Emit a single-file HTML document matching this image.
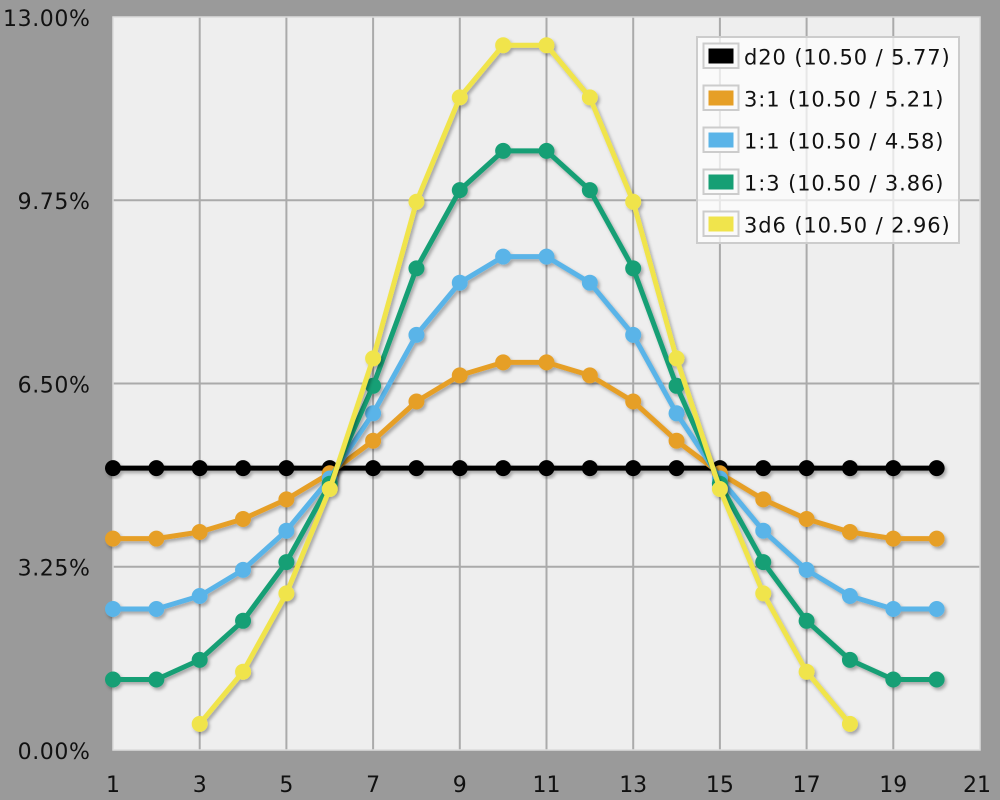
<!DOCTYPE html>
<html><head><meta charset="utf-8"><style>
html,body{margin:0;padding:0;background:#9a9a9a;}
svg{display:block;}
text{font-family:"DejaVu Sans","Liberation Sans",sans-serif;fill:#111;}
</style></head><body>
<svg width="1000" height="800" viewBox="0 0 1000 800" xmlns="http://www.w3.org/2000/svg">
<defs>
<filter id="sh" x="-20%" y="-20%" width="140%" height="140%">
<feDropShadow dx="2" dy="2.5" stdDeviation="1.6" flood-color="#000" flood-opacity="0.3"/>
</filter>
</defs>
<rect x="0" y="0" width="1000" height="800" fill="#9a9a9a"/>
<rect x="113" y="17" width="867" height="733" fill="#eeeeee"/>
<g stroke="#aaaaaa" stroke-width="2">
<line x1="113" y1="200.2" x2="980" y2="200.2"/>
<line x1="113" y1="383.5" x2="980" y2="383.5"/>
<line x1="113" y1="566.7" x2="980" y2="566.7"/>
<line x1="199.7" y1="17" x2="199.7" y2="750"/>
<line x1="286.4" y1="17" x2="286.4" y2="750"/>
<line x1="373.1" y1="17" x2="373.1" y2="750"/>
<line x1="459.8" y1="17" x2="459.8" y2="750"/>
<line x1="546.5" y1="17" x2="546.5" y2="750"/>
<line x1="633.2" y1="17" x2="633.2" y2="750"/>
<line x1="719.9" y1="17" x2="719.9" y2="750"/>
<line x1="806.6" y1="17" x2="806.6" y2="750"/>
<line x1="893.3" y1="17" x2="893.3" y2="750"/>
</g>
<rect x="113" y="17" width="867" height="733" fill="none" stroke="#dcdcdc" stroke-width="1.5"/>

<g font-size="22" text-anchor="end" letter-spacing="0.6">
<text x="90.5" y="26">13.00%</text>
<text x="90.5" y="209">9.75%</text>
<text x="90.5" y="392.5">6.50%</text>
<text x="90.5" y="575.5">3.25%</text>
<text x="90.5" y="759">0.00%</text>
</g>
<g font-size="22" text-anchor="middle">
<text x="113" y="792">1</text>
<text x="199.7" y="792">3</text>
<text x="286.4" y="792">5</text>
<text x="373.1" y="792">7</text>
<text x="459.8" y="792">9</text>
<text x="546.5" y="792">11</text>
<text x="633.2" y="792">13</text>
<text x="719.9" y="792">15</text>
<text x="806.6" y="792">17</text>
<text x="893.3" y="792">19</text>
<text x="977" y="792">21</text>
</g>

<!-- d20 -->
<g filter="url(#sh)" fill="#000">
<polyline fill="none" stroke="#000" stroke-width="5" stroke-linejoin="round" points="113,468.1 936.65,468.1"/>
<circle cx="113" cy="468.1" r="8"/><circle cx="156.35" cy="468.1" r="8"/><circle cx="199.7" cy="468.1" r="8"/><circle cx="243.05" cy="468.1" r="8"/><circle cx="286.4" cy="468.1" r="8"/><circle cx="329.75" cy="468.1" r="8"/><circle cx="373.1" cy="468.1" r="8"/><circle cx="416.45" cy="468.1" r="8"/><circle cx="459.8" cy="468.1" r="8"/><circle cx="503.15" cy="468.1" r="8"/><circle cx="546.5" cy="468.1" r="8"/><circle cx="589.85" cy="468.1" r="8"/><circle cx="633.2" cy="468.1" r="8"/><circle cx="676.55" cy="468.1" r="8"/><circle cx="719.9" cy="468.1" r="8"/><circle cx="763.25" cy="468.1" r="8"/><circle cx="806.6" cy="468.1" r="8"/><circle cx="849.95" cy="468.1" r="8"/><circle cx="893.3" cy="468.1" r="8"/><circle cx="936.65" cy="468.1" r="8"/>
</g>
<!-- 3:1 -->
<g filter="url(#sh)" fill="#e69f26">
<polyline fill="none" stroke="#e69f26" stroke-width="5" stroke-linejoin="round" points="113,538.6 156.35,538.6 199.7,532.0 243.05,519.0 286.4,499.4 329.75,473.3 373.1,440.7 416.45,401.5 459.8,375.4 503.15,362.4 546.5,362.4 589.85,375.4 633.2,401.5 676.55,440.7 719.9,473.3 763.25,499.4 806.6,519.0 849.95,532.0 893.3,538.6 936.65,538.6"/>
<circle cx="113" cy="538.6" r="8"/><circle cx="156.35" cy="538.6" r="8"/><circle cx="199.7" cy="532.0" r="8"/><circle cx="243.05" cy="519.0" r="8"/><circle cx="286.4" cy="499.4" r="8"/><circle cx="329.75" cy="473.3" r="8"/><circle cx="373.1" cy="440.7" r="8"/><circle cx="416.45" cy="401.5" r="8"/><circle cx="459.8" cy="375.4" r="8"/><circle cx="503.15" cy="362.4" r="8"/><circle cx="546.5" cy="362.4" r="8"/><circle cx="589.85" cy="375.4" r="8"/><circle cx="633.2" cy="401.5" r="8"/><circle cx="676.55" cy="440.7" r="8"/><circle cx="719.9" cy="473.3" r="8"/><circle cx="763.25" cy="499.4" r="8"/><circle cx="806.6" cy="519.0" r="8"/><circle cx="849.95" cy="532.0" r="8"/><circle cx="893.3" cy="538.6" r="8"/><circle cx="936.65" cy="538.6" r="8"/>
</g>
<!-- 1:1 -->
<g filter="url(#sh)" fill="#5ab4e8">
<polyline fill="none" stroke="#5ab4e8" stroke-width="5" stroke-linejoin="round" points="113,609.0 156.35,609.0 199.7,596.0 243.05,569.9 286.4,530.7 329.75,478.5 373.1,413.3 416.45,334.9 459.8,282.7 503.15,256.6 546.5,256.6 589.85,282.7 633.2,334.9 676.55,413.3 719.9,478.5 763.25,530.7 806.6,569.9 849.95,596.0 893.3,609.0 936.65,609.0"/>
<circle cx="113" cy="609.0" r="8"/><circle cx="156.35" cy="609.0" r="8"/><circle cx="199.7" cy="596.0" r="8"/><circle cx="243.05" cy="569.9" r="8"/><circle cx="286.4" cy="530.7" r="8"/><circle cx="329.75" cy="478.5" r="8"/><circle cx="373.1" cy="413.3" r="8"/><circle cx="416.45" cy="334.9" r="8"/><circle cx="459.8" cy="282.7" r="8"/><circle cx="503.15" cy="256.6" r="8"/><circle cx="546.5" cy="256.6" r="8"/><circle cx="589.85" cy="282.7" r="8"/><circle cx="633.2" cy="334.9" r="8"/><circle cx="676.55" cy="413.3" r="8"/><circle cx="719.9" cy="478.5" r="8"/><circle cx="763.25" cy="530.7" r="8"/><circle cx="806.6" cy="569.9" r="8"/><circle cx="849.95" cy="596.0" r="8"/><circle cx="893.3" cy="609.0" r="8"/><circle cx="936.65" cy="609.0" r="8"/>
</g>
<!-- 1:3 -->
<g filter="url(#sh)" fill="#169f74">
<polyline fill="none" stroke="#169f74" stroke-width="5" stroke-linejoin="round" points="113,679.5 156.35,679.5 199.7,659.9 243.05,620.8 286.4,562.1 329.75,483.7 373.1,385.8 416.45,268.4 459.8,190.1 503.15,150.9 546.5,150.9 589.85,190.1 633.2,268.4 676.55,385.8 719.9,483.7 763.25,562.1 806.6,620.8 849.95,659.9 893.3,679.5 936.65,679.5"/>
<circle cx="113" cy="679.5" r="8"/><circle cx="156.35" cy="679.5" r="8"/><circle cx="199.7" cy="659.9" r="8"/><circle cx="243.05" cy="620.8" r="8"/><circle cx="286.4" cy="562.1" r="8"/><circle cx="329.75" cy="483.7" r="8"/><circle cx="373.1" cy="385.8" r="8"/><circle cx="416.45" cy="268.4" r="8"/><circle cx="459.8" cy="190.1" r="8"/><circle cx="503.15" cy="150.9" r="8"/><circle cx="546.5" cy="150.9" r="8"/><circle cx="589.85" cy="190.1" r="8"/><circle cx="633.2" cy="268.4" r="8"/><circle cx="676.55" cy="385.8" r="8"/><circle cx="719.9" cy="483.7" r="8"/><circle cx="763.25" cy="562.1" r="8"/><circle cx="806.6" cy="620.8" r="8"/><circle cx="849.95" cy="659.9" r="8"/><circle cx="893.3" cy="679.5" r="8"/><circle cx="936.65" cy="679.5" r="8"/>
</g>
<!-- 3d6 -->
<g filter="url(#sh)" fill="#f0e44c">
<polyline fill="none" stroke="#f0e44c" stroke-width="5" stroke-linejoin="round" points="199.7,723.9 243.05,671.7 286.4,593.4 329.75,489.0 373.1,358.4 416.45,201.8 459.8,97.4 503.15,45.2 546.5,45.2 589.85,97.4 633.2,201.8 676.55,358.4 719.9,489.0 763.25,593.4 806.6,671.7 849.95,723.9"/>
<circle cx="199.7" cy="723.9" r="8"/><circle cx="243.05" cy="671.7" r="8"/><circle cx="286.4" cy="593.4" r="8"/><circle cx="329.75" cy="489.0" r="8"/><circle cx="373.1" cy="358.4" r="8"/><circle cx="416.45" cy="201.8" r="8"/><circle cx="459.8" cy="97.4" r="8"/><circle cx="503.15" cy="45.2" r="8"/><circle cx="546.5" cy="45.2" r="8"/><circle cx="589.85" cy="97.4" r="8"/><circle cx="633.2" cy="201.8" r="8"/><circle cx="676.55" cy="358.4" r="8"/><circle cx="719.9" cy="489.0" r="8"/><circle cx="763.25" cy="593.4" r="8"/><circle cx="806.6" cy="671.7" r="8"/><circle cx="849.95" cy="723.9" r="8"/>
</g>

<!-- legend -->
<rect x="697" y="37" width="262" height="206" fill="#ffffff" fill-opacity="0.72" stroke="#cccccc" stroke-width="2"/>
<g stroke="#cccccc" stroke-width="2" fill="#fafafa">
<rect x="703.5" y="43.5" width="35" height="24.5"/>
<rect x="703.5" y="85.5" width="35" height="24.5"/>
<rect x="703.5" y="127.5" width="35" height="24.5"/>
<rect x="703.5" y="169.5" width="35" height="24.5"/>
<rect x="703.5" y="211.5" width="35" height="24.5"/>
</g>
<rect x="708.5" y="48.5" width="25" height="15" fill="#000"/>
<rect x="708.5" y="90.5" width="25" height="15" fill="#e69f26"/>
<rect x="708.5" y="132.5" width="25" height="15" fill="#5ab4e8"/>
<rect x="708.5" y="174.5" width="25" height="15" fill="#169f74"/>
<rect x="708.5" y="216.5" width="25" height="15" fill="#f0e44c"/>
<g font-size="21" letter-spacing="0.9">
<text x="744" y="64.5">d20 (10.50 / 5.77)</text>
<text x="744" y="106.5">3:1 (10.50 / 5.21)</text>
<text x="744" y="148.5">1:1 (10.50 / 4.58)</text>
<text x="744" y="190.5">1:3 (10.50 / 3.86)</text>
<text x="744" y="232.5">3d6 (10.50 / 2.96)</text>
</g>
</svg>
</body></html>
